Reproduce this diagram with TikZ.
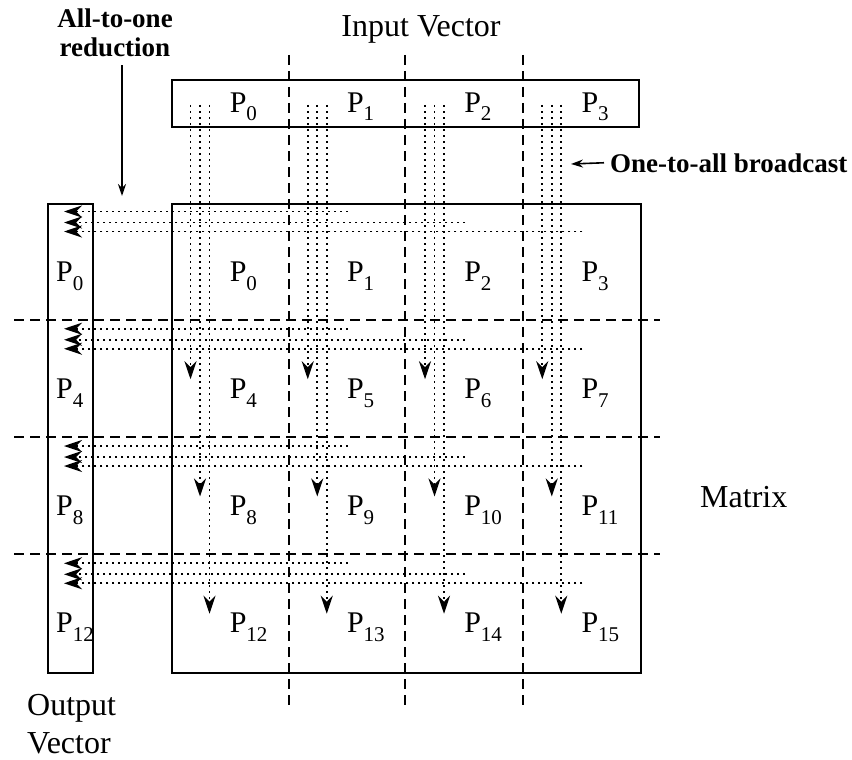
\documentclass[tikz,border=0pt]{standalone}
\usepackage{fontspec}
\setmainfont{Liberation Serif}
\usetikzlibrary{arrows.meta}
\newcommand{\proc}[1]{P\raisebox{-9pt}{\fontsize{21}{21}\selectfont #1}}

\begin{document}
\begin{tikzpicture}[x=1pt,y=-1pt,
        box/.style={draw,line width=2pt,inner sep=0pt,anchor=north west},
        part/.style={line width=1.7pt,dash pattern=on 10pt off 6pt},
        msg/.style={line width=1.6pt,dash pattern=on 2pt off 4pt,
            -{Stealth[length=18pt,width=12pt,inset=6pt]}},
        plabel/.style={anchor=base west,inner sep=0pt,
            font=\fontsize{30}{30}\selectfont},
        big/.style={font=\fontsize{32}{38}\selectfont,inner sep=0pt},
        note/.style={font=\fontsize{27}{29}\selectfont\bfseries,inner sep=0pt},
        arr/.style={line width=1.6pt,-{Stealth[length=12pt,width=8pt]}}]
\useasboundingbox (0,0) rectangle (852,760);

\node[box,minimum width=467pt,minimum height=47pt] (invec) at (171,79) {};
\node[box,minimum width=469pt,minimum height=469pt] (mat) at (171,203) {};
\node[box,minimum width=45pt,minimum height=469pt] (outvec) at (47,203) {};

\foreach \x/\y in {289/320,405/437,523/554} {
    \draw[part] (\x,55) -- (\x,708);
    \draw[part] (14,\y) -- (660,\y);
}

\foreach \c in {0,...,3} {
    \node[plabel] (in\c) at ({229.6+117.25*\c},112) {\proc{\c}};
    \foreach \r in {0,...,3} {
        \pgfmathtruncatemacro{\n}{4*\r+\c}
        \node[plabel] (m\n) at ({229.6+117.25*\c},{281+117.25*\r}) {\proc{\n}};
    }
}
\foreach \r in {0,...,3} {
    \pgfmathtruncatemacro{\n}{4*\r}
    \node[plabel] (out\r) at (56,{281+117.25*\r}) {\proc{\n}};
}

% one-to-all broadcast down each column
\foreach \c in {0,...,3}
    \foreach \k/\dx in {1/19.5,2/29,3/38.5} {
        \coordinate (bs\c\k) at ({171+117.25*\c+\dx},105);
        \coordinate (be\c\k) at ({171+117.25*\c+\dx},{262+117.25*\k});
        \draw[msg] (bs\c\k) -- (be\c\k);
    }

% all-to-one reduction along each row
\foreach \r in {0,...,3}
    \foreach \k/\dy in {1/8.5,2/19.5,3/28.5} {
        \coordinate (rs\r\k) at ({230.6+117.25*\k},{203+117.25*\r+\dy});
        \coordinate (re\r\k) at (64,{203+117.25*\r+\dy});
        \draw[msg] (rs\r\k) -- (re\r\k);
    }

\node[big,anchor=base] (invtitle) at (421,37) {Input Vector};
\node[big,anchor=base west] (mattitle) at (700,507) {Matrix};
\node[big,align=left,anchor=north west] (outtitle) at (27,694) {Output\\Vector};
\node[note,align=center,anchor=north] (reduce) at (115,9) {All-to-one\\reduction};
\node[note,anchor=base west] (bcast) at (610,172) {One-to-all broadcast};

\coordinate (redtip) at (122,196);
\coordinate (bctip) at (571,164);
\draw[arr] ([yshift=-8pt]reduce.south -| redtip) -- (redtip);
\draw[arr] ([xshift=-6pt]bcast.west) -- (bctip);
\end{tikzpicture}
\end{document}
